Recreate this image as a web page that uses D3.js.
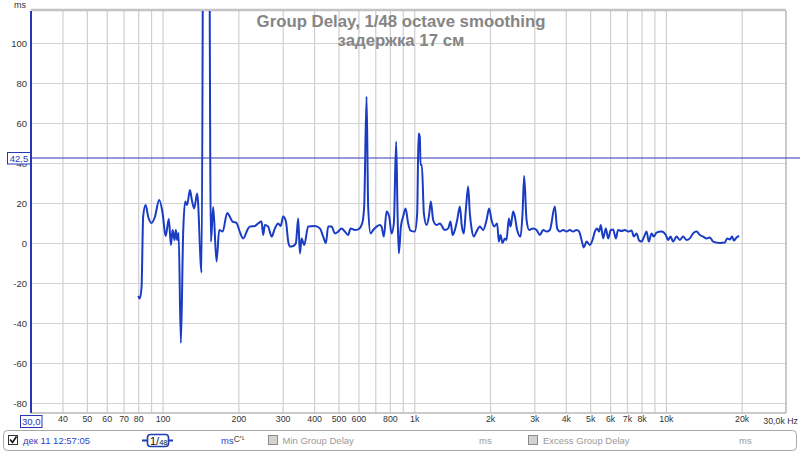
<!DOCTYPE html>
<html>
<head>
<meta charset="utf-8">
<script src="https://cdn.jsdelivr.net/npm/d3@7"></script>
<style>
  html, body { margin: 0; padding: 0; background: #fff; }
  svg { display: block; font-family: "Liberation Sans", Arial, sans-serif; }
</style>
</head>
<body>
<svg id="chart" width="800" height="453"></svg>
<script>
// ---------- data ----------
const titleLines = ["Group Delay, 1/48 octave smoothing", "задержка 17 см"];
const freqs = [80.0,81.2,82.5,83.7,85.6,87.7,90.4,93.2,96.9,100,102.8,105.9,107.9,109.6,111.6,112.9,114.3,115.8,118.2,120.7,123.0,125.2,128.4,130.7,133.5,137.2,142.9,145.9,152.1,155.6,158.9,163.8,167.9,173.2,180.6,189.7,196.8,201.5,209.0,218.8,222.3,232.7,239.8,247.4,251.0,254.9,262.7,271.1,279.4,288.0,294.4,301.5,309.1,315.6,320.6,330.4,338.6,345.8,351.3,356.7,365.3,378.9,402.9,421.7,434.6,445.5,455.0,469.4,483.8,498.6,514.4,530.1,546.3,558.4,580.8,598.6,620.9,632.4,646.4,656.0,670.5,686.6,708.3,730.0,741.5,757.2,776.1,794.9,812.5,829.7,847.4,858.3,868.6,884.7,903.5,923.5,945.8,966.7,1005,1027,1040,1052,1059,1072,1092,1119,1143,1164,1189,1226,1264,1323,1364,1394,1420,1450,1481,1518,1546,1574,1603,1637,1663,1689,1725,1768,1822,1878,1938,1984,2028,2077,2135,2168,2202,2243,2291,2326,2376,2413,2472,2510,2563,2644,2693,2733,2794,2861,2968,3062,3155,3252,3354,3457,3620,3696,3789,3905,4029,4152,4279,4414,4521,4621,4719,4837,4985,5109,5218,5329,5427,5513,5629,5770,5893,6040,6168,6323,6457,6661,6865,7076,7300,7456,7643,7827,7998,8192,8374,8553,8767,8953,9174,9607,9991,10202,10430,10681,11019,11356,11705,12075,12445,12826,13233,13639,14057,14501,14946,15404,16374,17140,17503,17944,18323,18613,19078,19539];
const delays = [-26.5,-27.7,-22,13.2,19,13,10,13,21.5,15,3.5,12,-1,6.5,1.5,6.5,1.5,5,-50,5,20.7,19,26.5,21.5,17.3,24.8,-14.8,250,250,0.7,18,-9.3,6.5,5.7,15,10.7,10,6.5,2.3,7.3,8.2,8.5,9.8,10.7,4,9,8.2,3.2,7.3,9.8,8.5,13.2,10.7,0.7,-1.8,-1.5,0,12.3,-5.2,2.3,-1,8.2,8.5,7.3,3.2,0,8.2,8.2,4.8,5.7,7.3,5.7,4,7.3,6.5,6.8,9.8,18.2,73.2,18,4.8,6.5,8.2,9,8.2,3.2,15.7,13.2,4.8,9.8,50.7,14.8,-5.2,8.2,13.2,17.3,9.8,6.2,5.7,14.8,54.8,53.2,39,39,14.8,9,13.2,20.7,11.5,9,9.8,6.5,7.3,10.7,4,6.5,11.5,18.2,8.2,4.8,16.5,28.2,14.8,7.3,3.2,5.7,8.2,6.5,11.5,17.3,11.5,8.2,9.8,0.7,4,0,2.3,1.5,12.3,8.2,15.7,13.2,6.5,3.2,14.8,33.5,11.5,6.5,7.3,6.5,4,6.5,5.7,6.5,18.2,7.3,5.7,6.5,5.7,6.5,5.7,6.5,5.7,1.5,-2.2,0.7,-1,1.5,5.7,7.3,5.7,9,2.3,7.3,2.3,6.5,6.8,2.3,6.5,6,6.5,5.7,6.2,3.2,4.8,1.2,0.7,3.2,5.7,0.7,4.8,3.2,5.2,5.7,4,1.5,3.2,0.7,3.2,1.5,3.2,1.5,2.3,4.8,5.7,4,3.2,2.3,2.8,0.7,0,0.2,2.3,1.8,3.2,1.2,2.8,3.5];
const gridFreqs = [40,50,60,70,80,90,100,200,300,400,500,600,700,800,900,1000,2000,3000,4000,5000,6000,7000,8000,9000,10000,20000];
const xLabelFreqs = [40,50,60,70,80,100,200,300,400,500,600,800,1000,2000,3000,4000,5000,6000,7000,8000,10000,20000];
const xLabels = ["40","50","60","70","80","100","200","300","400","500","600","800","1k","2k","3k","4k","5k","6k","7k","8k","10k","20k"];
const yTicks = [-80,-60,-40,-20,0,20,40,60,80,100];
const markerValue = 42.5;
const markerText = "42,5";
const xStartText = "30,0";
const xEndText = "30,0k Hz";
const legendTrace = "дек 11 12:57:05";
const legendSmoothing = ["1/", "48"];
const legendUnit = ["ms", "C'¹"];
const legendOthers = [["Min Group Delay", "ms"], ["Excess Group Delay", "ms"]];

// ---------- layout ----------
const svg = d3.select("#chart");
const L = 31, R = 786, T = 11, B = 413;
const x = d3.scaleLog().domain([30, 30000]).range([L, R]);
const y = d3.scaleLinear().domain([-85, 116]).range([B, T]);
const blue = "#1a3cc4";
const axisBlue = "#2a36b8";

svg.append("rect").attr("width", 800).attr("height", 453).attr("fill", "#fff");

// grid
const gx = svg.append("g").attr("transform", `translate(0,${B})`)
  .call(d3.axisBottom(x).tickValues(gridFreqs).tickSize(-(B - T)).tickFormat(""));
gx.select(".domain").remove();
gx.selectAll(".tick line").attr("stroke", "#cfcfcf").attr("stroke-width", 1.2);

const gy = svg.append("g").attr("transform", `translate(${L},0)`)
  .call(d3.axisLeft(y).tickValues(yTicks).tickSize(-(R - L)).tickFormat(""));
gy.select(".domain").remove();
gy.selectAll(".tick line").attr("stroke", "#d2d2d2").attr("stroke-width", 1.2);

// frame
svg.append("line").attr("x1", L).attr("x2", R).attr("y1", B).attr("y2", B).attr("stroke", "#b8b8b8").attr("stroke-width", 1.5);
svg.append("line").attr("x1", R).attr("x2", R).attr("y1", T).attr("y2", B).attr("stroke", "#b8b8b8").attr("stroke-width", 1.5);
svg.append("line").attr("x1", L).attr("x2", R).attr("y1", T - 1).attr("y2", T - 1).attr("stroke", "#c4c4c4").attr("stroke-width", 2.5);

// y labels
const yl = svg.append("g").attr("transform", `translate(27,0)`)
  .call(d3.axisLeft(y).tickValues(yTicks).tickSize(0).tickPadding(0).tickFormat(d => String(d)));
yl.select(".domain").remove();
yl.selectAll("text").attr("font-size", 9.5).attr("fill", "#333").attr("font-family", "Liberation Sans, Arial, sans-serif");

// x labels
const xl = svg.append("g").attr("transform", `translate(0,${B + 3})`)
  .call(d3.axisBottom(x).tickValues(xLabelFreqs).tickSize(0).tickPadding(0)
    .tickFormat((d, i) => xLabels[i]));
xl.select(".domain").remove();
xl.selectAll("text").attr("font-size", 8.8).attr("fill", "#333").attr("font-family", "Liberation Sans, Arial, sans-serif");

svg.append("text").attr("x", 798).attr("y", 424).attr("text-anchor", "end")
  .attr("font-size", 8.8).attr("fill", "#333").text(xEndText);

// title
titleLines.forEach((t, i) => {
  svg.append("text").attr("x", 401).attr("y", 27 + i * 18.5).attr("text-anchor", "middle")
    .attr("font-size", 16.8).attr("font-weight", "bold").attr("fill", "#858585").text(t);
});

// units label
svg.append("text").attr("x", 14).attr("y", 8).attr("font-size", 9).attr("fill", "#333").text("ms");

// curve
svg.append("clipPath").attr("id", "plotclip").append("rect")
  .attr("x", L).attr("y", T).attr("width", R - L).attr("height", B - T);
const pts = freqs.map((f, i) => [f, delays[i]]);
svg.append("path").datum(pts)
  .attr("clip-path", "url(#plotclip)")
  .attr("fill", "none").attr("stroke", blue).attr("stroke-width", 2)
  .attr("stroke-linejoin", "round")
  .attr("d", d3.line().curve(d3.curveMonotoneX).x(d => x(d[0])).y(d => y(d[1])));

// marker line
svg.append("line").attr("x1", L).attr("x2", 800).attr("y1", y(markerValue)).attr("y2", y(markerValue))
  .attr("stroke", axisBlue).attr("stroke-width", 1);
// left axis line (blue)
svg.append("line").attr("x1", L).attr("x2", L).attr("y1", T).attr("y2", B)
  .attr("stroke", axisBlue).attr("stroke-width", 2);

// marker box
svg.append("rect").attr("x", 7.5).attr("y", y(markerValue) - 5.5).attr("width", 23).attr("height", 11.5)
  .attr("fill", "#fff").attr("stroke", axisBlue).attr("stroke-width", 1);
svg.append("text").attr("x", 19).attr("y", y(markerValue) + 4).attr("text-anchor", "middle")
  .attr("font-size", 9.5).attr("fill", axisBlue).text(markerText);

// x start box
svg.append("rect").attr("x", 20.5).attr("y", 415.5).attr("width", 21.5).attr("height", 12)
  .attr("fill", "#fff").attr("stroke", axisBlue).attr("stroke-width", 1);
svg.append("text").attr("x", 31.3).attr("y", 425).attr("text-anchor", "middle")
  .attr("font-size", 9.5).attr("fill", axisBlue).text(xStartText);

// legend
svg.append("rect").attr("x", 3.5).attr("y", 430.5).attr("width", 793).attr("height", 20)
  .attr("rx", 4).attr("fill", "#fff").attr("stroke", "#a8a8a8").attr("stroke-width", 1);
// checkbox 1
svg.append("rect").attr("x", 8.5).attr("y", 435.5).attr("width", 9).attr("height", 9)
  .attr("fill", "#fff").attr("stroke", "#333").attr("stroke-width", 1);
svg.append("path").attr("d", "M10,439.5 L12.5,442.5 L16.5,436.5").attr("fill", "none")
  .attr("stroke", "#111").attr("stroke-width", 1.6);
svg.append("text").attr("x", 23).attr("y", 444).attr("font-size", 9.5).attr("fill", "#2a46c8").text(legendTrace);
// smoothing badge
svg.append("line").attr("x1", 142).attr("x2", 173).attr("y1", 440.5).attr("y2", 440.5)
  .attr("stroke", "#1f3fb8").attr("stroke-width", 2);
svg.append("rect").attr("x", 147.5).attr("y", 434.5).attr("width", 21).attr("height", 12).attr("rx", 3)
  .attr("fill", "#fff").attr("stroke", "#1f3fb8").attr("stroke-width", 1.6);
const badge = svg.append("text").attr("x", 150).attr("y", 444.5).attr("fill", "#111");
badge.append("tspan").attr("font-size", 11).text(legendSmoothing[0]);
badge.append("tspan").attr("font-size", 7.5).text(legendSmoothing[1]);
// unit
const unit = svg.append("text").attr("x", 221).attr("y", 444).attr("font-size", 9.5);
unit.append("tspan").attr("fill", "#2a46c8").text(legendUnit[0]);
unit.append("tspan").attr("fill", "#444").attr("font-size", 8.5).attr("dy", -2).text(legendUnit[1]);
// other entries
const otherX = [[268, 282.5, 479], [528, 543, 739]];
legendOthers.forEach((e, i) => {
  const [cx, tx, mx] = otherX[i];
  svg.append("rect").attr("x", cx + 0.5).attr("y", 435.5).attr("width", 9).attr("height", 9)
    .attr("fill", "#d6d3ce").attr("stroke", "#8a8a8a").attr("stroke-width", 1);
  svg.append("text").attr("x", tx).attr("y", 444).attr("font-size", 9.5).attr("fill", "#9a9a9a").text(e[0]);
  svg.append("text").attr("x", mx).attr("y", 444).attr("font-size", 9.5).attr("fill", "#9a9a9a").text(e[1]);
});
</script>
</body>
</html>
